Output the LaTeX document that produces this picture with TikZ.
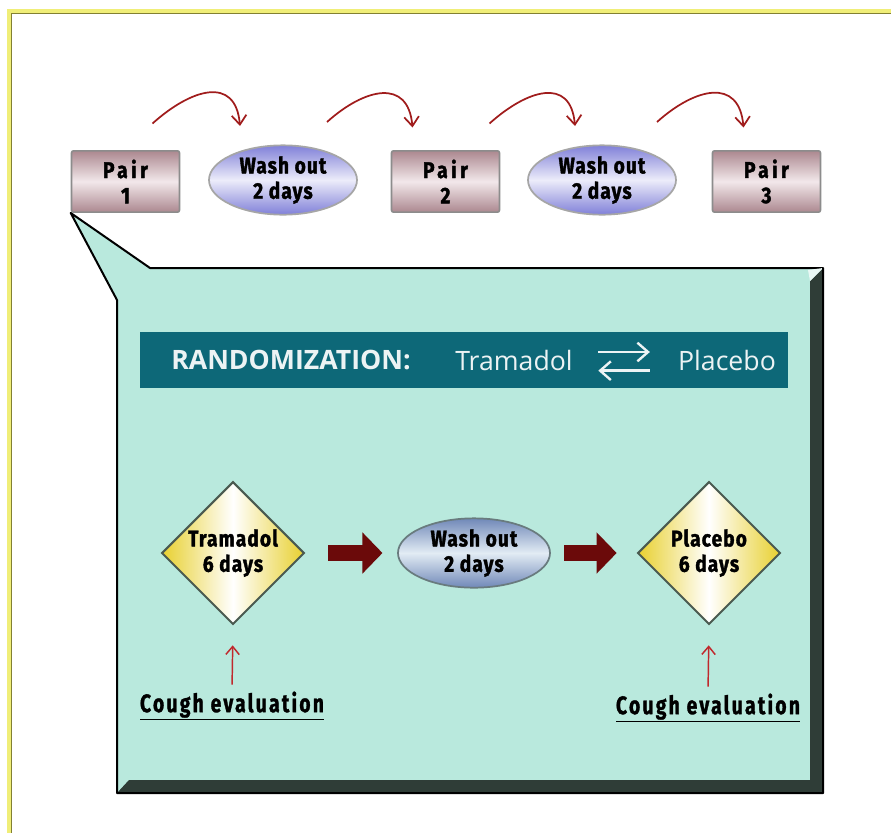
\documentclass[tikz,border=0pt]{standalone}
\usepackage{fontspec}
\usepackage{tikz}
\usetikzlibrary{positioning,arrows.meta,calc,shapes.geometric}
\newfontfamily\lblfont{Fira Sans}[FakeStretch=0.84,LetterSpace=5,FakeBold=1.6]
\newfontfamily\pairfont{Fira Sans}[FakeStretch=0.84,LetterSpace=16,FakeBold=1.6]
\newfontfamily\cefont{Fira Sans}[FakeStretch=0.76,LetterSpace=9,FakeBold=1.2]
\newfontfamily\banfont{Open Sans}
\definecolor{framey}{RGB}{240,238,120}
\definecolor{framedk}{RGB}{130,128,50}
\definecolor{pairdark}{RGB}{172,136,144}
\definecolor{pairlight}{RGB}{242,232,234}
\definecolor{pairedge}{RGB}{140,140,140}
\definecolor{lavdark}{RGB}{128,128,216}
\definecolor{lavlight}{RGB}{236,236,250}
\definecolor{diamy}{RGB}{232,208,48}
\definecolor{diamedge}{RGB}{74,90,80}
\definecolor{bluedark}{RGB}{112,136,184}
\definecolor{bluelight}{RGB}{226,236,244}
\definecolor{mint}{RGB}{185,233,221}
\definecolor{bevel}{RGB}{47,61,55}
\definecolor{teal}{RGB}{13,104,120}
\definecolor{maroon}{RGB}{107,10,10}
\definecolor{curvred}{RGB}{160,28,28}
\definecolor{smallred}{RGB}{192,40,44}
\tikzset{
  pairbox/.style={draw=pairedge,line width=1.2pt,rounded corners=1.5pt,minimum width=81pt,minimum height=46pt,
    inner sep=0pt,top color=pairdark,bottom color=pairdark,middle color=pairlight,align=center,
    font=\pairfont\bfseries\fontsize{17}{19}\selectfont},
  washtop/.style={ellipse,draw=gray!70,line width=1.3pt,minimum width=111pt,minimum height=52pt,inner sep=0pt,
    top color=lavdark,bottom color=lavdark,middle color=lavlight,align=center,
    font=\lblfont\bfseries\fontsize{17}{19}\selectfont},
  washin/.style={washtop,draw=gray!80!teal,top color=bluedark,bottom color=bluedark,middle color=bluelight,minimum width=114pt},
  diam/.style={diamond,draw=diamedge,line width=1.5pt,minimum width=107pt,minimum height=107pt,inner sep=0pt,
    left color=diamy,right color=diamy,middle color=white,align=center,
    font=\lblfont\bfseries\fontsize{17}{19}\selectfont},
  cough/.style={font=\cefont\bfseries\fontsize{19}{21}\selectfont,inner sep=1pt},
  bantxt/.style={text=white!92!teal,inner sep=0pt,font=\banfont\fontsize{20}{24}\selectfont},
  curvar/.style={-{Straight Barb[length=7pt,width=11pt]},line width=1.3pt,curvred},
  smallar/.style={-{Straight Barb[length=6pt,width=10pt]},line width=1.1pt,smallred},
  bigar/.style={-{Triangle[length=15pt,width=30pt]},line width=12.5pt,maroon},
}
\begin{document}
\begin{tikzpicture}[x=0.75pt,y=-0.75pt]
  \useasboundingbox (0,0) rectangle (891,832);
  % frame
  \draw[line width=3.5pt,framey] (9,11) rectangle (905,840);
  \draw[line width=0.8pt,framedk] (11.8,13.8) rectangle (905,840);

  % top row
  \node[pairbox] (p1) at (125.5,181.5) {Pair\\1};
  \node[washtop] (w1) at (283,180) {Wash out\\2 days};
  \node[pairbox] (p2) at (445.5,181.5) {Pair\\2};
  \node[washtop] (w2) at (602,180) {Wash out\\2 days};
  \node[pairbox] (p3) at (766.5,181.5) {Pair\\3};
  \foreach \a/\b/\s/\e in {p1/w1/27/-43, w1/p2/44/-33, p2/w2/44/-27, w2/p3/55/-23}
    \draw[curvar] ($(\a.center)+(\s,-58)$) to[out=42,in=95,looseness=1.5] ($(\b.center)+(\e,-54)$);

  % callout box
  \filldraw[fill=mint,draw=black,line width=1.5pt,line join=round]
    (p1.south west) -- (150,268) -- (823,268) -- (823,793) -- (117,793) -- (117,300) -- cycle;
  \fill[bevel] (823,268) -- (823,793) -- (117,793) -- (129,780) -- (810,780) -- (810,281) -- cycle;
  \fill[white!70!mint] (823,268) -- (810,281) -- (808,270) -- cycle;
  \draw[black,line width=1.5pt,line join=round] (823,268) -- (823,793) -- (117,793);

  % randomization banner
  \fill[teal] (140,332) rectangle (788,388);
  \node[bantxt,font=\banfont\bfseries\fontsize{20}{24}\selectfont] (rnd) at (291,360) {RANDOMIZATION:};
  \node[bantxt] (tra) at (514,360) {Tramadol};
  \node[bantxt] (pla) at (727,360) {Placebo};
  \draw[white!92!teal,line width=1.8pt,-{Straight Barb[length=8pt,width=14pt]},shorten <=19pt,shorten >=21pt]
    ([yshift=6pt]tra.east) -- ([yshift=6pt]pla.west);
  \draw[white!92!teal,line width=1.8pt,-{Straight Barb[length=8pt,width=14pt]},shorten <=21pt,shorten >=19pt]
    ([yshift=-8pt]pla.west) -- ([yshift=-8pt]tra.east);

  % treatment sequence
  \node[diam] (t1) at (233,553) {Tramadol\\6 days};
  \node[washin] (w3) at (474,553) {Wash out\\2 days};
  \node[diam] (t2) at (709,553) {Placebo\\6 days};
  \draw[bigar,shorten <=17pt,shorten >=11pt] (t1) -- (w3);
  \draw[bigar,shorten <=10pt,shorten >=15pt] (w3) -- (t2);

  % cough evaluation
  \node[cough] (c1) at (232,706) {\underline{Cough evaluation}};
  \node[cough] (c2) at (708,708) {\underline{Cough evaluation}};
  \draw[smallar,shorten <=4pt,shorten >=15pt] (c1.north) -- (t1.south);
  \draw[smallar,shorten <=4pt,shorten >=15pt] (c2.north) -- (t2.south);
\end{tikzpicture}
\end{document}
